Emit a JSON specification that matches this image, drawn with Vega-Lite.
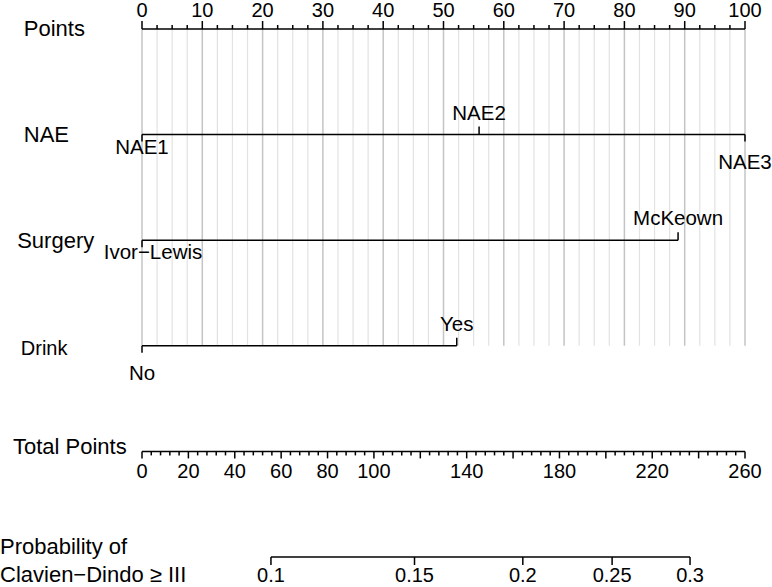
{
  "$schema": "https://vega.github.io/schema/vega-lite/v6.json",
  "width": 772,
  "height": 587,
  "autosize": "none",
  "padding": 0,
  "background": "white",
  "config": {
    "view": {"stroke": null},
    "font": "Liberation Sans",
    "text": {"font": "Liberation Sans", "color": "black"},
    "rule": {"color": "black", "strokeWidth": 1.5, "strokeCap": "butt"}
  },
  "datasets": {
    "vars": [
      {"variable": "Points", "label": "Points"},
      {"variable": "NAE", "label": "NAE"},
      {"variable": "Surgery", "label": "Surgery"},
      {"variable": "Drink", "label": "Drink"},
      {"variable": "Total Points", "label": "Total Points"},
      {"variable": "Probability", "label": "Probability of\nClavien−Dindo ≥ III"}
    ],
    "levels": [
      {"variable": "NAE", "level": "NAE1", "points": 0},
      {"variable": "NAE", "level": "NAE2", "points": 55.9},
      {"variable": "NAE", "level": "NAE3", "points": 100},
      {"variable": "Surgery", "level": "Ivor−Lewis", "points": 0},
      {"variable": "Surgery", "level": "McKeown", "points": 88.9},
      {"variable": "Drink", "level": "No", "points": 0},
      {"variable": "Drink", "level": "Yes", "points": 52.2}
    ],
    "pointTicks": [
      {"v": 0}, {"v": 2.5}, {"v": 5}, {"v": 7.5}, {"v": 10}, {"v": 12.5}, {"v": 15}, {"v": 17.5},
      {"v": 20}, {"v": 22.5}, {"v": 25}, {"v": 27.5}, {"v": 30}, {"v": 32.5}, {"v": 35}, {"v": 37.5},
      {"v": 40}, {"v": 42.5}, {"v": 45}, {"v": 47.5}, {"v": 50}, {"v": 52.5}, {"v": 55}, {"v": 57.5},
      {"v": 60}, {"v": 62.5}, {"v": 65}, {"v": 67.5}, {"v": 70}, {"v": 72.5}, {"v": 75}, {"v": 77.5},
      {"v": 80}, {"v": 82.5}, {"v": 85}, {"v": 87.5}, {"v": 90}, {"v": 92.5}, {"v": 95}, {"v": 97.5},
      {"v": 100}
    ],
    "totalTicks": [
      {"v": 0}, {"v": 4}, {"v": 8}, {"v": 12}, {"v": 16}, {"v": 20}, {"v": 24}, {"v": 28}, {"v": 32}, {"v": 36},
      {"v": 40}, {"v": 44}, {"v": 48}, {"v": 52}, {"v": 56}, {"v": 60}, {"v": 64}, {"v": 68}, {"v": 72}, {"v": 76},
      {"v": 80}, {"v": 84}, {"v": 88}, {"v": 92}, {"v": 96}, {"v": 100}, {"v": 104}, {"v": 108}, {"v": 112}, {"v": 116},
      {"v": 120}, {"v": 124}, {"v": 128}, {"v": 132}, {"v": 136}, {"v": 140}, {"v": 144}, {"v": 148}, {"v": 152}, {"v": 156},
      {"v": 160}, {"v": 164}, {"v": 168}, {"v": 172}, {"v": 176}, {"v": 180}, {"v": 184}, {"v": 188}, {"v": 192}, {"v": 196},
      {"v": 200}, {"v": 204}, {"v": 208}, {"v": 212}, {"v": 216}, {"v": 220}, {"v": 224}, {"v": 228}, {"v": 232}, {"v": 236},
      {"v": 240}, {"v": 244}, {"v": 248}, {"v": 252}, {"v": 256}, {"v": 260}
    ],
    "probTicks": [
      {"p": "0.1", "total": 55.6},
      {"p": "0.15", "total": 117.5},
      {"p": "0.2", "total": 164.2},
      {"p": "0.25", "total": 202.7},
      {"p": "0.3", "total": 236.3}
    ]
  },
  "layer": [
    {
      "data": {"name": "pointTicks"},
      "transform": [{"filter": "datum.v % 10 !== 0"}],
      "mark": {"type": "rule", "color": "#e2e2e2", "strokeWidth": 1.2},
      "encoding": {
        "x": {"field": "v", "type": "quantitative", "scale": {"domain": [0, 100], "range": [142, 745]}, "axis": null},
        "y": {"datum": "Points", "type": "nominal", "scale": {"type": "point", "domain": ["Points", "NAE", "Surgery", "Drink", "Total Points", "Probability"], "range": [29, 557], "padding": 0}, "axis": null},
        "y2": {"datum": "Drink"}
      }
    },
    {
      "data": {"name": "pointTicks"},
      "transform": [{"filter": "datum.v % 10 === 0"}],
      "mark": {"type": "rule", "color": "#c4c4c4", "strokeWidth": 1.5},
      "encoding": {
        "x": {"field": "v", "type": "quantitative", "scale": {"domain": [0, 100], "range": [142, 745]}, "axis": null},
        "y": {"datum": "Points", "type": "nominal", "axis": null},
        "y2": {"datum": "Drink"}
      }
    },
    {
      "data": {"name": "pointTicks"},
      "mark": {"type": "rule"},
      "encoding": {
        "x": {"aggregate": "min", "field": "v", "type": "quantitative", "scale": {"domain": [0, 100], "range": [142, 745]}, "axis": null},
        "x2": {"aggregate": "max", "field": "v"},
        "y": {"datum": "Points", "type": "nominal", "axis": null}
      }
    },
    {
      "data": {"name": "pointTicks"},
      "transform": [{"filter": "datum.v % 10 !== 0"}],
      "mark": {"type": "rule", "y2Offset": -4},
      "encoding": {
        "x": {"field": "v", "type": "quantitative", "scale": {"domain": [0, 100], "range": [142, 745]}, "axis": null},
        "y": {"datum": "Points", "type": "nominal", "axis": null},
        "y2": {"datum": "Points"}
      }
    },
    {
      "data": {"name": "pointTicks"},
      "transform": [{"filter": "datum.v % 10 === 0"}],
      "mark": {"type": "rule", "y2Offset": -8},
      "encoding": {
        "x": {"field": "v", "type": "quantitative", "scale": {"domain": [0, 100], "range": [142, 745]}, "axis": null},
        "y": {"datum": "Points", "type": "nominal", "axis": null},
        "y2": {"datum": "Points"}
      }
    },
    {
      "data": {"name": "pointTicks"},
      "transform": [{"filter": "datum.v % 10 === 0"}],
      "mark": {"type": "text", "fontSize": 20, "baseline": "alphabetic", "align": "center", "dy": -12},
      "encoding": {
        "x": {"field": "v", "type": "quantitative", "scale": {"domain": [0, 100], "range": [142, 745]}, "axis": null},
        "y": {"datum": "Points", "type": "nominal", "axis": null},
        "text": {"field": "v", "type": "quantitative", "format": "d"}
      }
    },
    {
      "data": {"name": "levels"},
      "mark": {"type": "rule"},
      "encoding": {
        "x": {"aggregate": "min", "field": "points", "type": "quantitative", "scale": {"domain": [0, 100], "range": [142, 745]}, "axis": null},
        "x2": {"aggregate": "max", "field": "points"},
        "y": {"field": "variable", "type": "nominal", "axis": null}
      }
    },
    {
      "data": {"name": "levels"},
      "transform": [{"filter": {"field": "level", "oneOf": ["NAE2", "McKeown", "Yes"]}}],
      "mark": {"type": "rule", "y2Offset": -8},
      "encoding": {
        "x": {"field": "points", "type": "quantitative", "scale": {"domain": [0, 100], "range": [142, 745]}, "axis": null},
        "y": {"field": "variable", "type": "nominal", "axis": null},
        "y2": {"field": "variable"}
      }
    },
    {
      "data": {"name": "levels"},
      "transform": [{"filter": {"field": "level", "oneOf": ["NAE1", "NAE3", "Ivor−Lewis", "No"]}}],
      "mark": {"type": "rule", "y2Offset": 7},
      "encoding": {
        "x": {"field": "points", "type": "quantitative", "scale": {"domain": [0, 100], "range": [142, 745]}, "axis": null},
        "y": {"field": "variable", "type": "nominal", "axis": null},
        "y2": {"field": "variable"}
      }
    },
    {
      "data": {"name": "levels"},
      "transform": [{"filter": {"field": "level", "oneOf": ["NAE2", "McKeown", "Yes"]}}],
      "mark": {"type": "text", "fontSize": 20.5, "baseline": "middle", "align": "center", "dy": -21},
      "encoding": {
        "x": {"field": "points", "type": "quantitative", "scale": {"domain": [0, 100], "range": [142, 745]}, "axis": null},
        "y": {"field": "variable", "type": "nominal", "axis": null},
        "text": {"field": "level", "type": "nominal"}
      }
    },
    {
      "data": {"name": "levels"},
      "transform": [{"filter": {"field": "level", "equal": "NAE1"}}],
      "mark": {"type": "text", "fontSize": 20.5, "baseline": "middle", "align": "center", "dy": 13},
      "encoding": {
        "x": {"field": "points", "type": "quantitative", "scale": {"domain": [0, 100], "range": [142, 745]}, "axis": null},
        "y": {"field": "variable", "type": "nominal", "axis": null},
        "text": {"field": "level", "type": "nominal"}
      }
    },
    {
      "data": {"name": "levels"},
      "transform": [{"filter": {"field": "level", "equal": "Ivor−Lewis"}}],
      "mark": {"type": "text", "fontSize": 20.5, "baseline": "middle", "align": "center", "dy": 13, "dx": 11},
      "encoding": {
        "x": {"field": "points", "type": "quantitative", "scale": {"domain": [0, 100], "range": [142, 745]}, "axis": null},
        "y": {"field": "variable", "type": "nominal", "axis": null},
        "text": {"field": "level", "type": "nominal"}
      }
    },
    {
      "data": {"name": "levels"},
      "transform": [{"filter": {"field": "level", "oneOf": ["NAE3", "No"]}}],
      "mark": {"type": "text", "fontSize": 20.5, "baseline": "middle", "align": "center", "dy": 28},
      "encoding": {
        "x": {"field": "points", "type": "quantitative", "scale": {"domain": [0, 100], "range": [142, 745]}, "axis": null},
        "y": {"field": "variable", "type": "nominal", "axis": null},
        "text": {"field": "level", "type": "nominal"}
      }
    },
    {
      "data": {"name": "totalTicks"},
      "mark": {"type": "rule"},
      "encoding": {
        "x": {"aggregate": "min", "field": "v", "type": "quantitative", "scale": {"domain": [0, 260], "range": [142, 745]}, "axis": null},
        "x2": {"aggregate": "max", "field": "v"},
        "y": {"datum": "Total Points", "type": "nominal", "axis": null}
      }
    },
    {
      "data": {"name": "totalTicks"},
      "transform": [{"filter": "datum.v % 20 !== 0"}],
      "mark": {"type": "rule", "y2Offset": 4},
      "encoding": {
        "x": {"field": "v", "type": "quantitative", "scale": {"domain": [0, 260], "range": [142, 745]}, "axis": null},
        "y": {"datum": "Total Points", "type": "nominal", "axis": null},
        "y2": {"datum": "Total Points"}
      }
    },
    {
      "data": {"name": "totalTicks"},
      "transform": [{"filter": "datum.v % 20 === 0"}],
      "mark": {"type": "rule", "y2Offset": 7},
      "encoding": {
        "x": {"field": "v", "type": "quantitative", "scale": {"domain": [0, 260], "range": [142, 745]}, "axis": null},
        "y": {"datum": "Total Points", "type": "nominal", "axis": null},
        "y2": {"datum": "Total Points"}
      }
    },
    {
      "data": {"name": "totalTicks"},
      "transform": [{"filter": {"field": "v", "oneOf": [0, 20, 40, 60, 80, 100, 140, 180, 220, 260]}}],
      "mark": {"type": "text", "fontSize": 20, "baseline": "alphabetic", "align": "center", "dy": 27},
      "encoding": {
        "x": {"field": "v", "type": "quantitative", "scale": {"domain": [0, 260], "range": [142, 745]}, "axis": null},
        "y": {"datum": "Total Points", "type": "nominal", "axis": null},
        "text": {"field": "v", "type": "quantitative", "format": "d"}
      }
    },
    {
      "data": {"name": "probTicks"},
      "mark": {"type": "rule"},
      "encoding": {
        "x": {"aggregate": "min", "field": "total", "type": "quantitative", "scale": {"domain": [0, 260], "range": [142, 745]}, "axis": null},
        "x2": {"aggregate": "max", "field": "total"},
        "y": {"datum": "Probability", "type": "nominal", "axis": null}
      }
    },
    {
      "data": {"name": "probTicks"},
      "mark": {"type": "rule", "y2Offset": 8},
      "encoding": {
        "x": {"field": "total", "type": "quantitative", "scale": {"domain": [0, 260], "range": [142, 745]}, "axis": null},
        "y": {"datum": "Probability", "type": "nominal", "axis": null},
        "y2": {"datum": "Probability"}
      }
    },
    {
      "data": {"name": "probTicks"},
      "mark": {"type": "text", "fontSize": 20, "baseline": "alphabetic", "align": "center", "dy": 25},
      "encoding": {
        "x": {"field": "total", "type": "quantitative", "scale": {"domain": [0, 260], "range": [142, 745]}, "axis": null},
        "y": {"datum": "Probability", "type": "nominal", "axis": null},
        "text": {"field": "p", "type": "nominal"}
      }
    },
    {
      "data": {"name": "vars"},
      "transform": [{"filter": {"field": "variable", "oneOf": ["Points", "NAE"]}}],
      "mark": {"type": "text", "fontSize": 22, "baseline": "middle", "align": "left", "dy": 0},
      "encoding": {
        "x": {"datum": -19.6, "type": "quantitative", "scale": {"domain": [0, 100], "range": [142, 745]}, "axis": null},
        "y": {"field": "variable", "type": "nominal", "axis": null},
        "text": {"field": "label", "type": "nominal"}
      }
    },
    {
      "data": {"name": "vars"},
      "transform": [{"filter": {"field": "variable", "equal": "Surgery"}}],
      "mark": {"type": "text", "fontSize": 22, "baseline": "middle", "align": "left", "dy": 1},
      "encoding": {
        "x": {"datum": -20.7, "type": "quantitative", "scale": {"domain": [0, 100], "range": [142, 745]}, "axis": null},
        "y": {"field": "variable", "type": "nominal", "axis": null},
        "text": {"field": "label", "type": "nominal"}
      }
    },
    {
      "data": {"name": "vars"},
      "transform": [{"filter": {"field": "variable", "equal": "Drink"}}],
      "mark": {"type": "text", "fontSize": 20, "baseline": "middle", "align": "left", "dy": 3},
      "encoding": {
        "x": {"datum": -20.1, "type": "quantitative", "scale": {"domain": [0, 100], "range": [142, 745]}, "axis": null},
        "y": {"field": "variable", "type": "nominal", "axis": null},
        "text": {"field": "label", "type": "nominal"}
      }
    },
    {
      "data": {"name": "vars"},
      "transform": [{"filter": {"field": "variable", "equal": "Total Points"}}],
      "mark": {"type": "text", "fontSize": 22, "baseline": "middle", "align": "left", "dy": -4},
      "encoding": {
        "x": {"datum": -21.4, "type": "quantitative", "scale": {"domain": [0, 100], "range": [142, 745]}, "axis": null},
        "y": {"field": "variable", "type": "nominal", "axis": null},
        "text": {"field": "label", "type": "nominal"}
      }
    },
    {
      "data": {"name": "vars"},
      "transform": [{"filter": {"field": "variable", "equal": "Probability"}}],
      "mark": {"type": "text", "fontSize": 22, "baseline": "middle", "align": "left", "dy": -10, "lineBreak": "\n", "lineHeight": 28},
      "encoding": {
        "x": {"datum": -23.55, "type": "quantitative", "scale": {"domain": [0, 100], "range": [142, 745]}, "axis": null},
        "y": {"field": "variable", "type": "nominal", "axis": null},
        "text": {"field": "label", "type": "nominal"}
      }
    }
  ],
  "resolve": {"scale": {"x": "independent"}}
}
